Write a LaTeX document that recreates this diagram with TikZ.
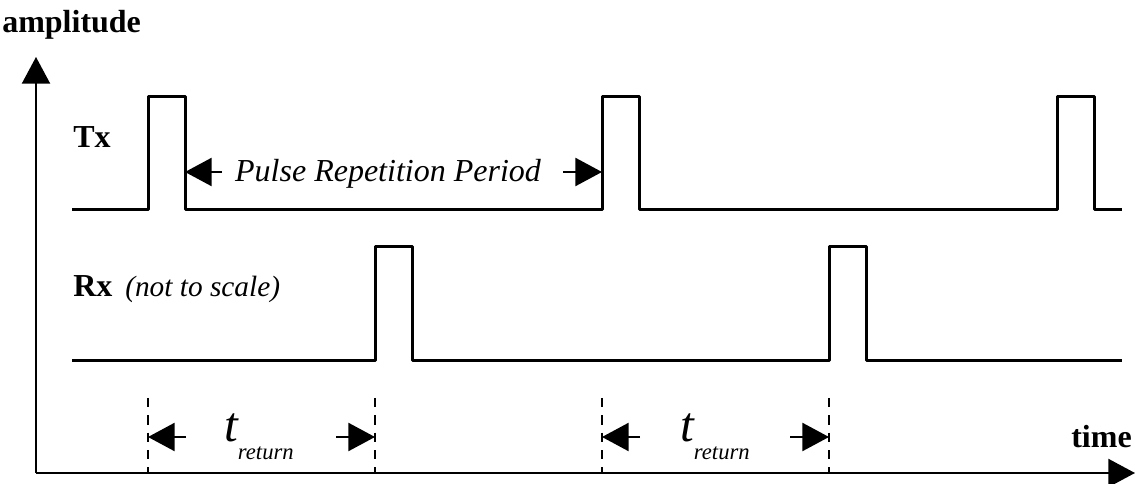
\documentclass[tikz,border=0pt]{standalone}
\usepackage{fontspec}
\setmainfont{Liberation Serif}
\usetikzlibrary{arrows.meta}
\begin{document}
\begin{tikzpicture}[x=0.75pt,y=-0.75pt,
  sig/.style={line width=2.25pt, line join=round},
  axis/.style={line width=1.6pt, -{Triangle[length=20pt,width=21pt]}},
  guide/.style={line width=1.2pt, dash pattern=on 7pt off 6pt},
  dim/.style={line width=1.8pt, -{Triangle[length=20pt,width=21pt]}},
  lab/.style={font=\fontsize{24}{28}\selectfont\bfseries, inner sep=0pt},
  ital/.style={font=\fontsize{24}{28}\selectfont\itshape, inner sep=0pt},
  tlab/.style={inner sep=0pt, anchor=base}]
\useasboundingbox (0,0) rectangle (1135,484);
% axes
\coordinate (O) at (36,473);
\coordinate (ytip) at (36,57);
\coordinate (xtip) at (1135,473);
\draw[axis] (O) -- (ytip);
\draw[axis] (O) -- (xtip);
\node[lab, anchor=base west] (amp) at (2,33) {amplitude};
\node[lab, anchor=base east] (time) at (1132,447) {time};
% Tx signal
\draw[sig] (72,210) -- (148,210) -- (148,97) -- (185,97) -- (185,210)
  -- (602,210) -- (602,97) -- (639,97) -- (639,210)
  -- (1057,210) -- (1057,97) -- (1094,97) -- (1094,210) -- (1122,210);
\node[lab, anchor=base west] (tx) at (73,148) {Tx};
% Rx signal
\draw[sig] (72,361) -- (375,361) -- (375,247) -- (412,247) -- (412,361)
  -- (829,361) -- (829,247) -- (866,247) -- (866,361) -- (1122,361);
\node[lab, anchor=base west] (rx) at (73,297) {Rx};
\node[ital, anchor=base west, font=\fontsize{22}{26}\selectfont\itshape] (nts) at (125,297) {(not to scale)};
% pulse repetition period
\coordinate (prpL) at (185,172);
\coordinate (prpLt) at (222,172);
\coordinate (prpR) at (602,172);
\coordinate (prpRt) at (563,172);
\draw[dim] (prpLt) -- (prpL);
\draw[dim] (prpRt) -- (prpR);
\node[ital, anchor=base] (prp) at (388,182) {Pulse Repetition Period};
% guides
\foreach \n/\x in {g1/148,g2/375,g3/602,g4/829}{
  \coordinate (\n-top) at (\x,398);
  \coordinate (\n-bot) at (\x,473);
  \coordinate (\n-mid) at (\x,437);
  \draw[guide] (\n-top) -- (\n-bot);
}
\coordinate (a1) at (186,437);
\coordinate (a2) at (336,437);
\coordinate (a3) at (640,437);
\coordinate (a4) at (790,437);
\draw[dim] (a1) -- (g1-mid);
\draw[dim] (a2) -- (g2-mid);
\draw[dim] (a3) -- (g3-mid);
\draw[dim] (a4) -- (g4-mid);
\node[tlab] (tr1) at (259,441) {{\fontsize{37}{40}\selectfont\itshape t}\raisebox{-14pt}{\fontsize{17}{20}\selectfont\itshape return}};
\node[tlab] (tr2) at (715,441) {{\fontsize{37}{40}\selectfont\itshape t}\raisebox{-14pt}{\fontsize{17}{20}\selectfont\itshape return}};
\end{tikzpicture}
\end{document}
